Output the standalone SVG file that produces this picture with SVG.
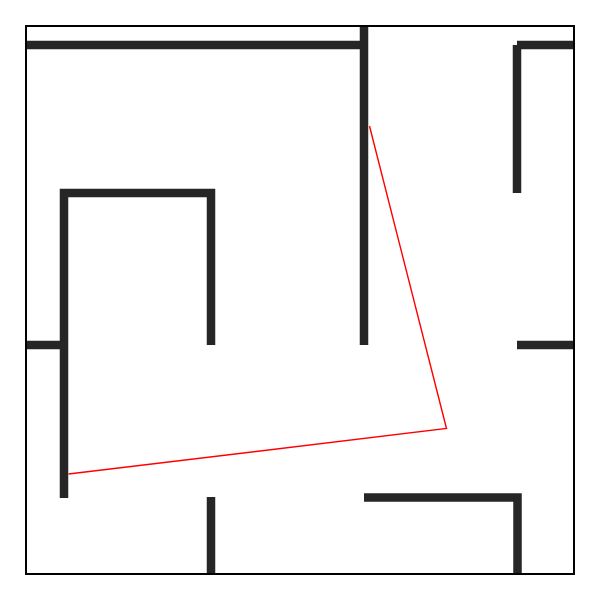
<svg xmlns="http://www.w3.org/2000/svg" width="600" height="600" viewBox="0 0 600 600">
<style>
.wall{stroke:#262626;stroke-width:8.5;fill:none;stroke-linecap:butt;stroke-linejoin:miter}
.path{stroke:#ff0000;stroke-width:1.4;fill:none}
</style>
<rect x="0" y="0" width="600" height="600" fill="#ffffff"/>
<g id="walls">
<line class="wall" x1="26" y1="45" x2="364" y2="45"/>
<line class="wall" x1="364" y1="26" x2="364" y2="345"/>
<line class="wall" x1="517" y1="45" x2="574" y2="45"/>
<line class="wall" x1="517" y1="45" x2="517" y2="193"/>
<polyline class="wall" points="64,498 64,193 211,193 211,345"/>
<line class="wall" x1="26" y1="345" x2="64" y2="345"/>
<line class="wall" x1="517" y1="345" x2="574" y2="345"/>
<line class="wall" x1="211" y1="497" x2="211" y2="574"/>
<polyline class="wall" points="364,497.5 517.5,497.5 517.5,574"/>
</g>
<rect x="26" y="26" width="548" height="548" fill="none" stroke="#000000" stroke-width="2"/>
<g id="connectors">
<polyline class="path" points="369.5,126 446.5,428.5 68.5,474"/>
</g>
</svg>
